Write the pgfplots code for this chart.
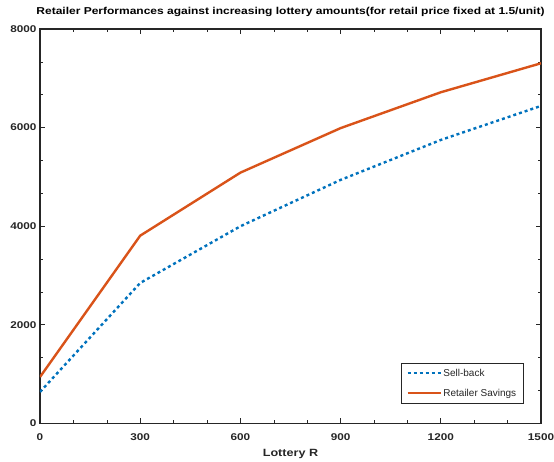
\documentclass[border=0pt]{standalone}
\usepackage{fontspec}
\setmainfont{Liberation Sans}
\usepackage{graphicx}
\usepackage{pgfplots}
\pgfplotsset{compat=1.18}
\definecolor{mblue}{rgb}{0,0.447,0.741}
\definecolor{morange}{rgb}{0.85,0.325,0.098}
\definecolor{mgray}{rgb}{0.15,0.15,0.15}
\begin{document}
\begin{tikzpicture}[x=1pt,y=1pt]
\useasboundingbox (-40,-38.5) rectangle (514,423.5);
\begin{axis}[
  at={(0,0)}, anchor=south west,
  scale only axis, width=501pt, height=394.5pt,
  xmin=0, xmax=1500, ymin=0, ymax=8000,
  xtick={0,300,600,900,1200,1500},
  ytick={0,2000,4000,6000,8000},
  minor tick num=2,
  tick align=inside,
  major tick length=5pt, minor tick length=3pt,
  tick style={mgray, line width=0.8pt},
  minor tick style={mgray, line width=0.5pt},
  axis line style={mgray, line width=1.3pt},
  /pgf/number format/assume math mode=true,
  /pgf/number format/1000 sep={},
  xticklabel={\scalebox{1.2}[1]{\pgfmathprintnumber{\tick}}},
  yticklabel={\scalebox{1.2}[1]{\pgfmathprintnumber{\tick}}},
  ticklabel style={font=\fontsize{9.8}{11}\selectfont\bfseries, text=mgray},
  xticklabel style={yshift=-7pt},
  title={\scalebox{1.2}[1]{\bfseries Retailer Performances against increasing lottery amounts(for retail price fixed at 1.5/unit)}},
  title style={font=\fontsize{10}{12}\selectfont, yshift=3pt},
  xlabel={\scalebox{1.2}[1]{\bfseries Lottery R}},
  xlabel style={font=\fontsize{10.5}{12}\selectfont, text=mgray, yshift=-1pt},
  legend style={at={(0.965,0.05)}, anchor=south east, draw=mgray, line width=0.5pt,
    font=\fontsize{10}{12}\selectfont, text=mgray, inner xsep=5.5pt, inner ysep=4pt, row sep=7.5pt,
    nodes={inner sep=1.5pt, text height=7.5pt, text depth=2pt},
    legend cell align=left},
  legend image code/.code={\draw[#1] (0pt,0pt) -- (33pt,0pt);},
]
\addplot[mblue, line width=2.4pt, dash pattern=on 3pt off 3pt] coordinates {
(0,640) (300,2850) (600,4000) (900,4940) (1200,5750) (1500,6440)};
\addlegendentry{Sell-back}
\addplot[morange, line width=2.4pt] coordinates {
(0,943) (300,3809) (600,5087) (900,5990) (1200,6717) (1500,7305)};
\addlegendentry{Retailer Savings}
\end{axis}
\end{tikzpicture}
\end{document}
